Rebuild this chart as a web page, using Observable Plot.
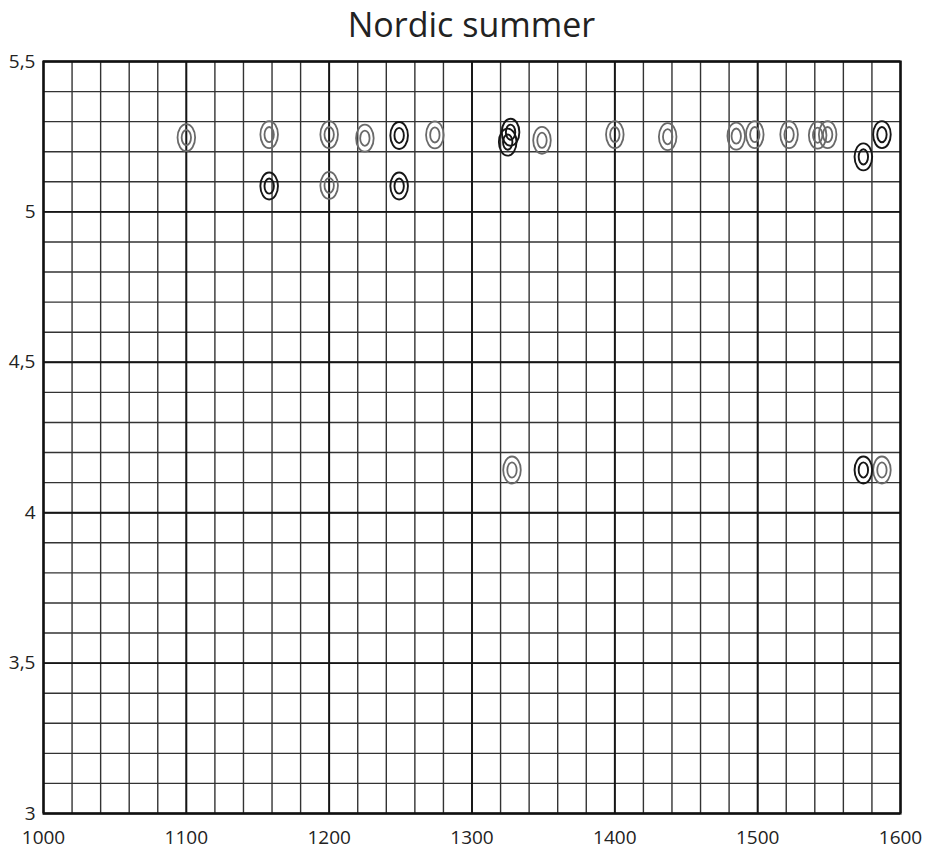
<!DOCTYPE html>
<html>
<head>
<meta charset="utf-8">
<script src="https://cdn.jsdelivr.net/npm/d3@7"></script>
<script src="https://cdn.jsdelivr.net/npm/@observablehq/plot@0.6"></script>
<style>
  html, body { margin: 0; padding: 0; background: #fff; }
  #wrap { position: relative; width: 936px; height: 849px; }
  #title { position: absolute; left: 0; width: 943px; top: 2px; text-align: center;
           font-family: "Open Sans", sans-serif; font-size: 34px; line-height: 44px; color: #222; }
  #chart { position: absolute; left: 0; top: 46px; }
</style>
</head>
<body>
<div id="wrap">
  <div id="title">Nordic summer</div>
  <div id="chart"></div>
</div>
<script>
const xTicks = [1000, 1100, 1200, 1300, 1400, 1500, 1600];
const yTicks = [3, 3.5, 4, 4.5, 5, 5.5];
const xGrid = d3.range(1000, 1601, 20);
const yGrid = d3.range(30, 56, 1).map(v => v / 10);

const grayX = [1100, 1158, 1200, 1225, 1274, 1349, 1400, 1437, 1485, 1498, 1522, 1542, 1549, 1200, 1328, 1587];
const grayY = [5.247, 5.257, 5.257, 5.245, 5.256, 5.238, 5.257, 5.25, 5.252, 5.257, 5.257, 5.255, 5.257, 5.088, 4.142, 4.142];
const blackX = [1158, 1249, 1249, 1327, 1325, 1574, 1587, 1574];
const blackY = [5.086, 5.254, 5.086, 5.265, 5.232, 5.183, 5.257, 4.142];

const gray = grayX.map((x, i) => ({x, y: grayY[i]}));
const black = blackX.map((x, i) => ({x, y: blackY[i]}));

function ell(ctx, rx, ry) {
  const k = 0.5522847498;
  ctx.moveTo(rx, 0);
  ctx.bezierCurveTo(rx, ry * k, rx * k, ry, 0, ry);
  ctx.bezierCurveTo(-rx * k, ry, -rx, ry * k, -rx, 0);
  ctx.bezierCurveTo(-rx, -ry * k, -rx * k, -ry, 0, -ry);
  ctx.bezierCurveTo(rx * k, -ry, rx, -ry * k, rx, 0);
  ctx.closePath();
}
const ring = { draw(ctx) { ell(ctx, 8.8, 13.5); ell(ctx, 4.7, 7.6); } };

const fmt = d => String(d).replace(".", ",");

const chart = Plot.plot({
  width: 936,
  height: 803,
  marginLeft: 43,
  marginRight: 36,
  marginTop: 15,
  marginBottom: 36,
  style: { fontFamily: "'Open Sans', sans-serif", color: "#222", background: "#fff" },
  x: { domain: [1000, 1600] },
  y: { domain: [3, 5.5] },
  marks: [
    Plot.ruleX(xGrid, { stroke: "#333", strokeWidth: 1.4 }),
    Plot.ruleY(yGrid, { stroke: "#333", strokeWidth: 1.4 }),
    Plot.ruleX(xTicks, { stroke: "#151515", strokeWidth: 1.9 }),
    Plot.ruleY(yTicks, { stroke: "#151515", strokeWidth: 1.9 }),
    Plot.frame({ stroke: "#111", strokeWidth: 2.2 }),
    Plot.axisX({ ticks: xTicks, tickFormat: fmt, tickSize: 0, tickPadding: 17, label: null, fill: "#222" }),
    Plot.axisY({ ticks: yTicks, tickFormat: fmt, tickSize: 0, tickPadding: 8, label: null, fill: "#222" }),
    Plot.dot(gray, { x: "x", y: "y", symbol: ring, r: 5, fill: "none", stroke: "#6a6a6a", strokeWidth: 1.8 }),
    Plot.dot(black, { x: "x", y: "y", symbol: ring, r: 5, fill: "none", stroke: "#161616", strokeWidth: 1.9 })
  ]
});
d3.select(chart).selectAll("text").style("font-size", "19px").style("font-family", "'Open Sans', sans-serif");
document.getElementById("chart").appendChild(chart);
</script>
</body>
</html>
